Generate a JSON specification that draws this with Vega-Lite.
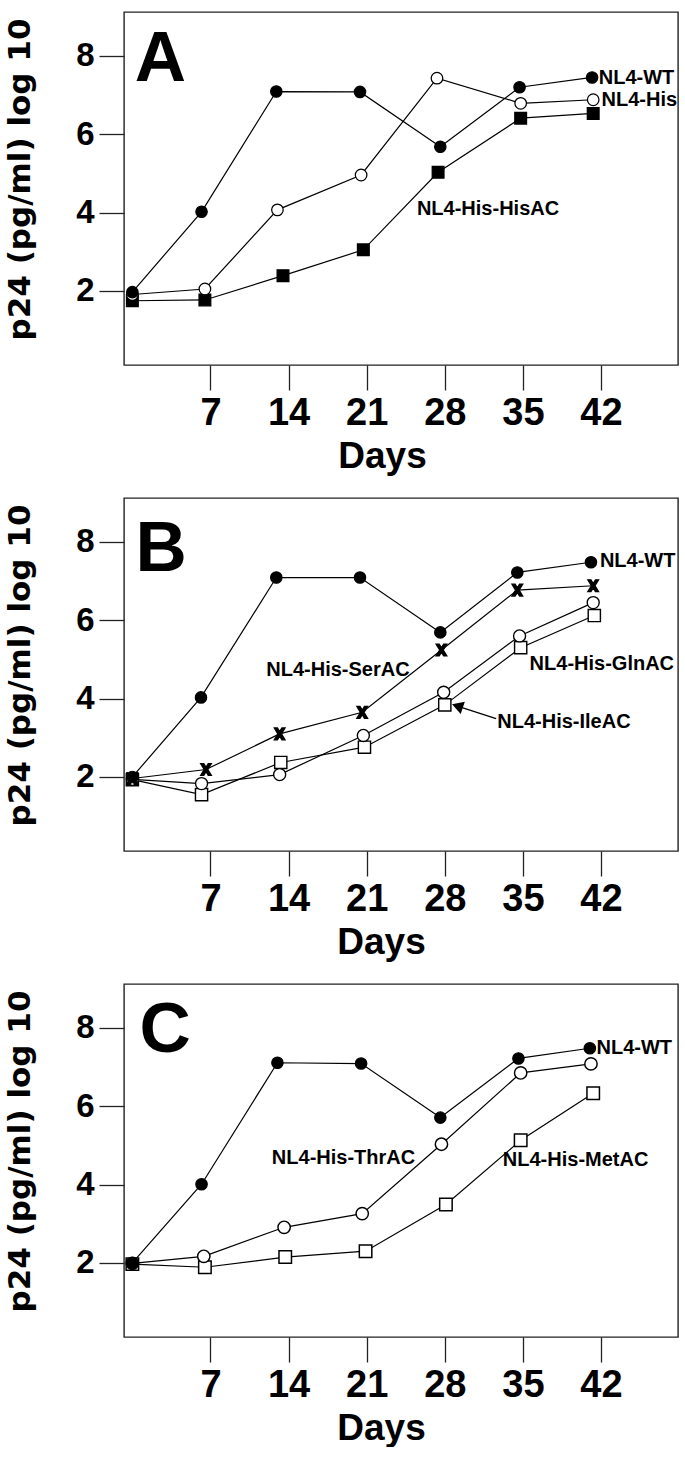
{
  "$schema": "https://vega.github.io/schema/vega-lite/v6.json",
  "padding": {"left": 3, "top": 11, "right": 0, "bottom": 0},
  "background": "white",
  "config": {
    "view": {"stroke": "#222222", "strokeWidth": 1.4},
    "axis": {"domain": false, "grid": false, "ticks": true, "tickColor": "#222222", "tickWidth": 1.3, "tickSize": 25, "labelFont": "Liberation Sans", "labelFontWeight": "bold", "labelColor": "black", "titleFont": "Liberation Sans", "titleFontWeight": "bold", "titleColor": "black"},
    "axisX": {"labelFontSize": 38, "labelPadding": 4, "titleFontSize": 37, "titlePadding": 6, "labelFlush": false},
    "axisY": {"labelFontSize": 33, "labelPadding": 5, "titleFontSize": 31, "titleFont": "DejaVu Sans", "titlePadding": 39.5, "titleY": 167},
    "text": {"font": "Liberation Sans", "fontWeight": "bold", "color": "black"}
  },
  "datasets": {
    "series": [
      {"panel": "A", "series": "NL4-His-HisAC", "day": 0, "value": 1.75},
      {"panel": "A", "series": "NL4-His-HisAC", "day": 6.5, "value": 1.77},
      {"panel": "A", "series": "NL4-His-HisAC", "day": 13.5, "value": 2.39},
      {"panel": "A", "series": "NL4-His-HisAC", "day": 20.7, "value": 3.05},
      {"panel": "A", "series": "NL4-His-HisAC", "day": 27.4, "value": 5.03},
      {"panel": "A", "series": "NL4-His-HisAC", "day": 34.8, "value": 6.41},
      {"panel": "A", "series": "NL4-His-HisAC", "day": 41.3, "value": 6.53},
      {"panel": "A", "series": "NL4-His", "day": 0, "value": 1.91},
      {"panel": "A", "series": "NL4-His", "day": 6.5, "value": 2.05},
      {"panel": "A", "series": "NL4-His", "day": 13.0, "value": 4.07},
      {"panel": "A", "series": "NL4-His", "day": 20.5, "value": 4.96},
      {"panel": "A", "series": "NL4-His", "day": 27.3, "value": 7.43},
      {"panel": "A", "series": "NL4-His", "day": 34.8, "value": 6.79},
      {"panel": "A", "series": "NL4-His", "day": 41.3, "value": 6.88},
      {"panel": "A", "series": "NL4-WT", "day": 0, "value": 1.97},
      {"panel": "A", "series": "NL4-WT", "day": 6.2, "value": 4.02},
      {"panel": "A", "series": "NL4-WT", "day": 12.9, "value": 7.09},
      {"panel": "A", "series": "NL4-WT", "day": 20.4, "value": 7.08},
      {"panel": "A", "series": "NL4-WT", "day": 27.6, "value": 5.68},
      {"panel": "A", "series": "NL4-WT", "day": 34.7, "value": 7.2},
      {"panel": "A", "series": "NL4-WT", "day": 41.2, "value": 7.45},

      {"panel": "B", "series": "NL4-His-IleAC", "day": 0, "value": 1.93},
      {"panel": "B", "series": "NL4-His-IleAC", "day": 6.2, "value": 1.55},
      {"panel": "B", "series": "NL4-His-IleAC", "day": 13.3, "value": 2.37},
      {"panel": "B", "series": "NL4-His-IleAC", "day": 20.8, "value": 2.76},
      {"panel": "B", "series": "NL4-His-IleAC", "day": 28.0, "value": 3.84},
      {"panel": "B", "series": "NL4-His-IleAC", "day": 34.8, "value": 5.3},
      {"panel": "B", "series": "NL4-His-IleAC", "day": 41.4, "value": 6.12},
      {"panel": "B", "series": "NL4-His-GlnAC", "day": 0, "value": 1.94},
      {"panel": "B", "series": "NL4-His-GlnAC", "day": 6.2, "value": 1.83},
      {"panel": "B", "series": "NL4-His-GlnAC", "day": 13.2, "value": 2.06},
      {"panel": "B", "series": "NL4-His-GlnAC", "day": 20.7, "value": 3.06},
      {"panel": "B", "series": "NL4-His-GlnAC", "day": 27.9, "value": 4.16},
      {"panel": "B", "series": "NL4-His-GlnAC", "day": 34.7, "value": 5.6},
      {"panel": "B", "series": "NL4-His-GlnAC", "day": 41.3, "value": 6.45},
      {"panel": "B", "series": "NL4-His-SerAC", "day": 0, "value": 1.96},
      {"panel": "B", "series": "NL4-His-SerAC", "day": 6.6, "value": 2.19},
      {"panel": "B", "series": "NL4-His-SerAC", "day": 13.2, "value": 3.1},
      {"panel": "B", "series": "NL4-His-SerAC", "day": 20.6, "value": 3.65},
      {"panel": "B", "series": "NL4-His-SerAC", "day": 27.7, "value": 5.24},
      {"panel": "B", "series": "NL4-His-SerAC", "day": 34.5, "value": 6.77},
      {"panel": "B", "series": "NL4-His-SerAC", "day": 41.3, "value": 6.88},
      {"panel": "B", "series": "NL4-WT", "day": 0, "value": 2.0},
      {"panel": "B", "series": "NL4-WT", "day": 6.15, "value": 4.03},
      {"panel": "B", "series": "NL4-WT", "day": 12.9, "value": 7.09},
      {"panel": "B", "series": "NL4-WT", "day": 20.4, "value": 7.09},
      {"panel": "B", "series": "NL4-WT", "day": 27.6, "value": 5.69},
      {"panel": "B", "series": "NL4-WT", "day": 34.5, "value": 7.22},
      {"panel": "B", "series": "NL4-WT", "day": 41.1, "value": 7.48},

      {"panel": "C", "series": "NL4-His-MetAC", "day": 0, "value": 1.97},
      {"panel": "C", "series": "NL4-His-MetAC", "day": 6.5, "value": 1.89},
      {"panel": "C", "series": "NL4-His-MetAC", "day": 13.7, "value": 2.15},
      {"panel": "C", "series": "NL4-His-MetAC", "day": 20.9, "value": 2.3},
      {"panel": "C", "series": "NL4-His-MetAC", "day": 28.1, "value": 3.49},
      {"panel": "C", "series": "NL4-His-MetAC", "day": 34.8, "value": 5.13},
      {"panel": "C", "series": "NL4-His-MetAC", "day": 41.3, "value": 6.33},
      {"panel": "C", "series": "NL4-His-ThrAC", "day": 0, "value": 1.99},
      {"panel": "C", "series": "NL4-His-ThrAC", "day": 6.4, "value": 2.17},
      {"panel": "C", "series": "NL4-His-ThrAC", "day": 13.6, "value": 2.91},
      {"panel": "C", "series": "NL4-His-ThrAC", "day": 20.6, "value": 3.26},
      {"panel": "C", "series": "NL4-His-ThrAC", "day": 27.7, "value": 5.03},
      {"panel": "C", "series": "NL4-His-ThrAC", "day": 34.8, "value": 6.85},
      {"panel": "C", "series": "NL4-His-ThrAC", "day": 41.1, "value": 7.08},
      {"panel": "C", "series": "NL4-WT", "day": 0, "value": 2.0},
      {"panel": "C", "series": "NL4-WT", "day": 6.2, "value": 4.01},
      {"panel": "C", "series": "NL4-WT", "day": 13.0, "value": 7.11},
      {"panel": "C", "series": "NL4-WT", "day": 20.5, "value": 7.09},
      {"panel": "C", "series": "NL4-WT", "day": 27.6, "value": 5.71},
      {"panel": "C", "series": "NL4-WT", "day": 34.6, "value": 7.22},
      {"panel": "C", "series": "NL4-WT", "day": 41.0, "value": 7.48}
    ],
    "labels": [
      {"panel": "A", "label": "NL4-WT", "day": 41.8, "value": 7.44},
      {"panel": "A", "label": "NL4-His", "day": 42.05, "value": 6.87},
      {"panel": "A", "label": "NL4-His-HisAC", "day": 25.5, "value": 4.08},
      {"panel": "B", "label": "NL4-WT", "day": 41.9, "value": 7.52},
      {"panel": "B", "label": "NL4-His-SerAC", "day": 12.0, "value": 4.73},
      {"panel": "B", "label": "NL4-His-GlnAC", "day": 35.6, "value": 4.88},
      {"panel": "B", "label": "NL4-His-IleAC", "day": 32.7, "value": 3.4},
      {"panel": "C", "label": "NL4-WT", "day": 41.6, "value": 7.49},
      {"panel": "C", "label": "NL4-His-ThrAC", "day": 12.5, "value": 4.69},
      {"panel": "C", "label": "NL4-His-MetAC", "day": 33.2, "value": 4.63}
    ],
    "letters": [
      {"panel": "A", "label": "A", "day": 0.21, "value": 7.37},
      {"panel": "B", "label": "B", "day": 0.27, "value": 7.26},
      {"panel": "C", "label": "C", "day": 0.64, "value": 7.39}
    ],
    "arrow": [
      {"panel": "B", "part": "tail", "day": 32.6, "value": 3.49},
      {"panel": "B", "part": "head", "day": 29.13, "value": 3.81}
    ]
  },
  "spacing": 22,
  "vconcat": [
    {
      "width": 554, "height": 353,
      "encoding": {
        "x": {"field": "day", "type": "quantitative", "scale": {"domain": [-0.75, 48.9], "nice": false, "zero": false}, "axis": {"values": [7, 14, 21, 28, 35, 42], "title": "Days", "titleX": 258}},
        "y": {"field": "value", "type": "quantitative", "scale": {"domain": [0.11, 9.12], "nice": false, "zero": false}, "axis": {"values": [2, 4, 6, 8], "title": "p24 (pg/ml) log 10"}}
      },
      "layer": [
        {"data": {"name": "series"}, "transform": [{"filter": "datum.panel === 'A'"}], "mark": {"type": "line", "color": "black", "strokeWidth": 1.2}, "encoding": {"detail": {"field": "series"}}},
        {"data": {"name": "series"}, "transform": [{"filter": "datum.panel === 'A'"}], "mark": {"type": "point", "filled": true, "stroke": "black", "opacity": 1},
          "encoding": {
            "shape": {"field": "series", "type": "nominal", "legend": null, "scale": {"domain": ["NL4-WT", "NL4-His", "NL4-His-HisAC", "NL4-His-SerAC", "NL4-His-GlnAC", "NL4-His-IleAC", "NL4-His-ThrAC", "NL4-His-MetAC"], "range": ["circle", "circle", "square", "M-0.9,-1L-0.38,-1L0,-0.38L0.38,-1L0.9,-1L0.3,0L0.9,1L0.38,1L0,0.38L-0.38,1L-0.9,1L-0.3,0Z", "circle", "square", "circle", "square"]}},
            "fill": {"field": "series", "type": "nominal", "legend": null, "scale": {"domain": ["NL4-WT", "NL4-His", "NL4-His-HisAC", "NL4-His-SerAC", "NL4-His-GlnAC", "NL4-His-IleAC", "NL4-His-ThrAC", "NL4-His-MetAC"], "range": ["black", "white", "black", "black", "white", "white", "white", "white"]}},
            "size": {"field": "series", "type": "nominal", "legend": null, "scale": {"domain": ["NL4-WT", "NL4-His", "NL4-His-HisAC", "NL4-His-SerAC", "NL4-His-GlnAC", "NL4-His-IleAC", "NL4-His-ThrAC", "NL4-His-MetAC"], "range": [130, 156, 110, 260, 156, 110, 156, 110]}},
            "strokeWidth": {"field": "series", "type": "nominal", "legend": null, "scale": {"domain": ["NL4-WT", "NL4-His", "NL4-His-HisAC", "NL4-His-SerAC", "NL4-His-GlnAC", "NL4-His-IleAC", "NL4-His-ThrAC", "NL4-His-MetAC"], "range": [1.2, 1.5, 1.2, 0.5, 1.5, 1.3, 1.5, 1.3]}}
          }},
        {"data": {"name": "labels"}, "transform": [{"filter": "datum.panel === 'A'"}], "mark": {"type": "text", "align": "left", "baseline": "middle", "fontSize": 20}, "encoding": {"text": {"field": "label"}}},
        {"data": {"name": "letters"}, "transform": [{"filter": "datum.panel === 'A'"}], "mark": {"type": "text", "align": "left", "baseline": "alphabetic", "fontSize": 71}, "encoding": {"text": {"field": "label"}}}
      ]
    },
    {
      "width": 554, "height": 353,
      "encoding": {
        "x": {"field": "day", "type": "quantitative", "scale": {"domain": [-0.75, 48.9], "nice": false, "zero": false}, "axis": {"values": [7, 14, 21, 28, 35, 42], "title": "Days", "titleX": 257}},
        "y": {"field": "value", "type": "quantitative", "scale": {"domain": [0.11, 9.12], "nice": false, "zero": false}, "axis": {"values": [2, 4, 6, 8], "title": "p24 (pg/ml) log 10"}}
      },
      "layer": [
        {"data": {"name": "series"}, "transform": [{"filter": "datum.panel === 'B'"}], "mark": {"type": "line", "color": "black", "strokeWidth": 1.2}, "encoding": {"detail": {"field": "series"}}},
        {"data": {"name": "arrow"}, "mark": {"type": "line", "color": "black", "strokeWidth": 1.3}, "encoding": {}},
        {"data": {"name": "arrow"}, "transform": [{"filter": "datum.part === 'head'"}], "mark": {"type": "point", "shape": "triangle-left", "angle": 18.4, "filled": true, "color": "black", "size": 170, "opacity": 1}},
        {"data": {"name": "series"}, "transform": [{"filter": "datum.panel === 'B'"}], "mark": {"type": "point", "filled": true, "stroke": "black", "opacity": 1},
          "encoding": {
            "shape": {"field": "series", "type": "nominal", "legend": null, "scale": {"domain": ["NL4-WT", "NL4-His", "NL4-His-HisAC", "NL4-His-SerAC", "NL4-His-GlnAC", "NL4-His-IleAC", "NL4-His-ThrAC", "NL4-His-MetAC"], "range": ["circle", "circle", "square", "M-0.9,-1L-0.38,-1L0,-0.38L0.38,-1L0.9,-1L0.3,0L0.9,1L0.38,1L0,0.38L-0.38,1L-0.9,1L-0.3,0Z", "circle", "square", "circle", "square"]}},
            "fill": {"field": "series", "type": "nominal", "legend": null, "scale": {"domain": ["NL4-WT", "NL4-His", "NL4-His-HisAC", "NL4-His-SerAC", "NL4-His-GlnAC", "NL4-His-IleAC", "NL4-His-ThrAC", "NL4-His-MetAC"], "range": ["black", "white", "black", "black", "white", "white", "white", "white"]}},
            "size": {"field": "series", "type": "nominal", "legend": null, "scale": {"domain": ["NL4-WT", "NL4-His", "NL4-His-HisAC", "NL4-His-SerAC", "NL4-His-GlnAC", "NL4-His-IleAC", "NL4-His-ThrAC", "NL4-His-MetAC"], "range": [130, 156, 110, 260, 156, 110, 156, 110]}},
            "strokeWidth": {"field": "series", "type": "nominal", "legend": null, "scale": {"domain": ["NL4-WT", "NL4-His", "NL4-His-HisAC", "NL4-His-SerAC", "NL4-His-GlnAC", "NL4-His-IleAC", "NL4-His-ThrAC", "NL4-His-MetAC"], "range": [1.2, 1.5, 1.2, 0.5, 1.5, 1.3, 1.5, 1.3]}}
          }},
        {"data": {"name": "labels"}, "transform": [{"filter": "datum.panel === 'B'"}], "mark": {"type": "text", "align": "left", "baseline": "middle", "fontSize": 20}, "encoding": {"text": {"field": "label"}}},
        {"data": {"name": "letters"}, "transform": [{"filter": "datum.panel === 'B'"}], "mark": {"type": "text", "align": "left", "baseline": "alphabetic", "fontSize": 71}, "encoding": {"text": {"field": "label"}}}
      ]
    },
    {
      "width": 554, "height": 353,
      "encoding": {
        "x": {"field": "day", "type": "quantitative", "scale": {"domain": [-0.75, 48.9], "nice": false, "zero": false}, "axis": {"values": [7, 14, 21, 28, 35, 42], "title": "Days", "titleX": 257}},
        "y": {"field": "value", "type": "quantitative", "scale": {"domain": [0.11, 9.12], "nice": false, "zero": false}, "axis": {"values": [2, 4, 6, 8], "title": "p24 (pg/ml) log 10"}}
      },
      "layer": [
        {"data": {"name": "series"}, "transform": [{"filter": "datum.panel === 'C'"}], "mark": {"type": "line", "color": "black", "strokeWidth": 1.2}, "encoding": {"detail": {"field": "series"}}},
        {"data": {"name": "series"}, "transform": [{"filter": "datum.panel === 'C'"}], "mark": {"type": "point", "filled": true, "stroke": "black", "opacity": 1},
          "encoding": {
            "shape": {"field": "series", "type": "nominal", "legend": null, "scale": {"domain": ["NL4-WT", "NL4-His", "NL4-His-HisAC", "NL4-His-SerAC", "NL4-His-GlnAC", "NL4-His-IleAC", "NL4-His-ThrAC", "NL4-His-MetAC"], "range": ["circle", "circle", "square", "M-0.9,-1L-0.38,-1L0,-0.38L0.38,-1L0.9,-1L0.3,0L0.9,1L0.38,1L0,0.38L-0.38,1L-0.9,1L-0.3,0Z", "circle", "square", "circle", "square"]}},
            "fill": {"field": "series", "type": "nominal", "legend": null, "scale": {"domain": ["NL4-WT", "NL4-His", "NL4-His-HisAC", "NL4-His-SerAC", "NL4-His-GlnAC", "NL4-His-IleAC", "NL4-His-ThrAC", "NL4-His-MetAC"], "range": ["black", "white", "black", "black", "white", "white", "white", "white"]}},
            "size": {"field": "series", "type": "nominal", "legend": null, "scale": {"domain": ["NL4-WT", "NL4-His", "NL4-His-HisAC", "NL4-His-SerAC", "NL4-His-GlnAC", "NL4-His-IleAC", "NL4-His-ThrAC", "NL4-His-MetAC"], "range": [130, 156, 110, 260, 156, 110, 156, 110]}},
            "strokeWidth": {"field": "series", "type": "nominal", "legend": null, "scale": {"domain": ["NL4-WT", "NL4-His", "NL4-His-HisAC", "NL4-His-SerAC", "NL4-His-GlnAC", "NL4-His-IleAC", "NL4-His-ThrAC", "NL4-His-MetAC"], "range": [1.2, 1.5, 1.2, 0.5, 1.5, 1.3, 1.5, 1.3]}}
          }},
        {"data": {"name": "labels"}, "transform": [{"filter": "datum.panel === 'C'"}], "mark": {"type": "text", "align": "left", "baseline": "middle", "fontSize": 20}, "encoding": {"text": {"field": "label"}}},
        {"data": {"name": "letters"}, "transform": [{"filter": "datum.panel === 'C'"}], "mark": {"type": "text", "align": "left", "baseline": "alphabetic", "fontSize": 71}, "encoding": {"text": {"field": "label"}}}
      ]
    }
  ]
}
